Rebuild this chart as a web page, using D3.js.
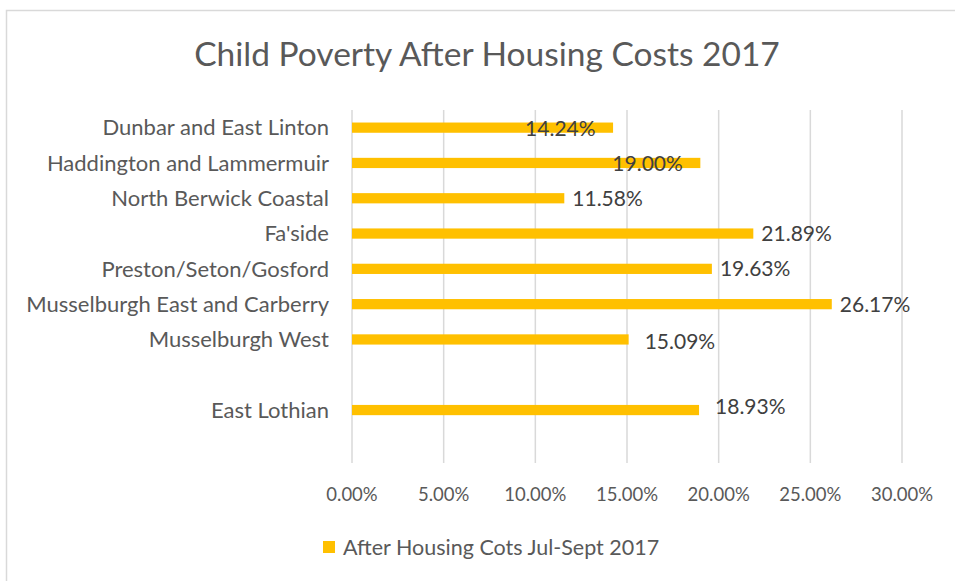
<!DOCTYPE html>
<html>
<head>
<meta charset="utf-8">
<script src="https://cdn.jsdelivr.net/npm/d3@7"></script>
<style>
  body { margin: 0; background: #fff; }
  svg { display: block; font-family: Lato, "Open Sans", sans-serif; }
  .title { font-size: 33.5px; fill: #595959; }
  .cat-label { font-size: 22px; fill: #595959; }
  .tick-label { font-size: 18.5px; fill: #595959; }
  .value-label { font-size: 21px; fill: #404040; }
  .legend-label { font-size: 21.5px; fill: #595959; }
  .grid { stroke: #d9d9d9; stroke-width: 1.5; }
  .bar { fill: #ffc000; }
</style>
</head>
<body>
<svg id="chart" width="955" height="581"></svg>
<script>
// Wards (blank rows are spacers, as in the source sheet)
const categories = [
  'Dunbar and East Linton',
  'Haddington and Lammermuir',
  'North Berwick Coastal',
  "Fa'side",
  'Preston/Seton/Gosford',
  'Musselburgh East and Carberry',
  'Musselburgh West',
  ' ',
  'East Lothian',
  '  '
];
const values = [14.24, 19.00, 11.58, 21.89, 19.63, 26.17, 15.09, null, 18.93, null];
const ticks = [0, 5, 10, 15, 20, 25, 30];
const seriesName = 'After Housing Cots Jul-Sept 2017';
const title = 'Child Poverty After Housing Costs 2017';

const data = categories.map((c, i) => ({ name: c, value: values[i] }));

const svg = d3.select('#chart');

// chart area frame (only top and left edges show in the crop)
svg.append('path')
  .attr('d', 'M6.5,581 V10.5 H955')
  .attr('fill', 'none')
  .attr('stroke', '#d9d9d9')
  .attr('stroke-width', 1.5);

svg.append('text')
  .attr('class', 'title')
  .attr('x', 487)
  .attr('y', 66)
  .attr('text-anchor', 'middle')
  .text(title);

const x = d3.scaleLinear().domain([0, 30]).range([352, 902]);
const y = d3.scaleBand()
  .domain(categories)
  .range([110, 463])
  .paddingInner(0.71)
  .paddingOuter(0.355);

// gridlines
svg.append('g').selectAll('line').data(ticks)
  .enter().append('line')
    .attr('class', 'grid')
    .attr('x1', d => x(d)).attr('x2', d => x(d))
    .attr('y1', 110).attr('y2', 463);

// tick labels
svg.append('g').selectAll('text').data(ticks)
  .enter().append('text')
    .attr('class', 'tick-label')
    .attr('x', d => x(d))
    .attr('y', 501)
    .attr('text-anchor', 'middle')
    .text(d => d.toFixed(2) + '%');

// category labels
svg.append('g').selectAll('text').data(data)
  .enter().append('text')
    .attr('class', 'cat-label')
    .attr('x', 329)
    .attr('y', d => y(d.name) + y.bandwidth() / 2)
    .attr('dy', '0.35em')
    .attr('text-anchor', 'end')
    .text(d => d.name.trim());

const bars = data.filter(d => d.value != null);

svg.append('g').selectAll('rect').data(bars)
  .enter().append('rect')
    .attr('class', 'bar')
    .attr('x', x(0))
    .attr('y', d => y(d.name))
    .attr('width', d => x(d.value) - x(0))
    .attr('height', y.bandwidth());

// data labels; a few were dragged by hand in the original
const nudge = {
  'Dunbar and East Linton': [-96, 1],
  'Haddington and Lammermuir': [-96, 1],
  'Musselburgh West': [8, 2],
  'East Lothian': [8, -3]
};
svg.append('g').selectAll('text').data(bars)
  .enter().append('text')
    .attr('class', 'value-label')
    .attr('x', d => x(d.value) + 8 + (nudge[d.name] ? nudge[d.name][0] : 0))
    .attr('y', d => y(d.name) + y.bandwidth() / 2 + (nudge[d.name] ? nudge[d.name][1] : 0))
    .attr('dy', '0.35em')
    .text(d => d.value.toFixed(2) + '%');

// legend
const legend = svg.append('g').attr('transform', 'translate(323,541)');
legend.append('rect')
  .attr('class', 'bar')
  .attr('width', 12).attr('height', 12);
legend.append('text')
  .attr('class', 'legend-label')
  .attr('x', 20)
  .attr('y', 6)
  .attr('dy', '0.35em')
  .text(seriesName);
</script>
</body>
</html>
